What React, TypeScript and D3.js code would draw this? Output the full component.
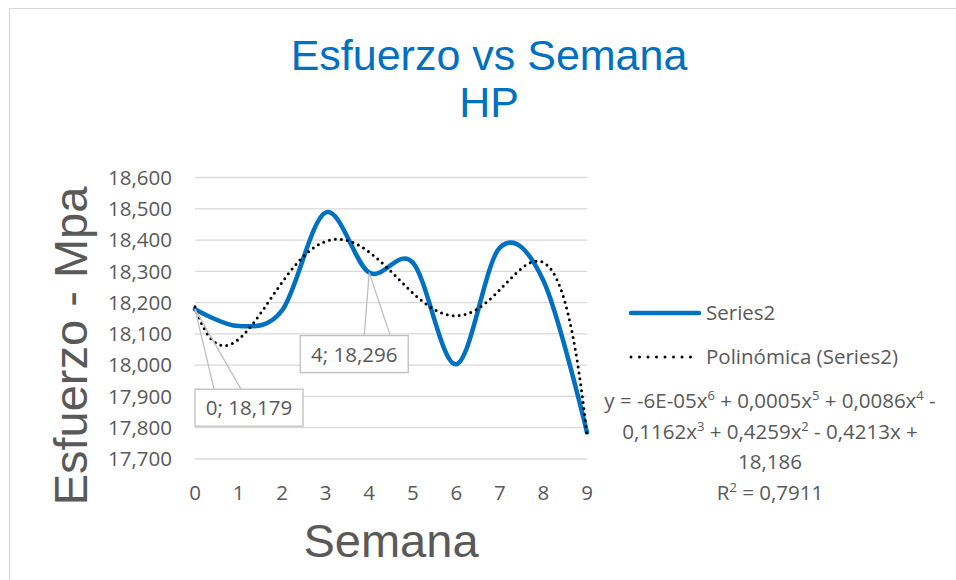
import React from 'react';
import * as d3 from 'd3';

const weeks = [0, 1, 2, 3, 4, 5, 6, 7, 8, 9];
const esfuerzo = [18.179, 18.125, 18.175, 18.488, 18.296, 18.328, 18.003, 18.376, 18.27, 17.785];
const yTicks = [17.7, 17.8, 17.9, 18.0, 18.1, 18.2, 18.3, 18.4, 18.5, 18.6];
const labelled = [0, 4];
// trendline label, "^" marks a superscript part
const equationLines = [
  'y = -6E-05x^6^ + 0,0005x^5^ + 0,0086x^4^ -',
  '0,1162x^3^ + 0,4259x^2^ - 0,4213x +',
  '18,186',
  'R^2^ = 0,7911',
];

const W = 956;
const H = 580;
const margin = { top: 177.5, right: 369, bottom: 121, left: 195 };

const fmt = (v: number) => v.toFixed(3).replace('.', ',');

// least-squares polynomial fit (like Excel's "Polinómica" trendline, order 6)
function polyFit(xs: number[], ys: number[], order: number) {
  const c = 4.5;
  const t = xs.map(x => (x - c) / c);
  const n = order + 1;
  const A: number[][] = [];
  for (let i = 0; i < n; i++) {
    const row: number[] = [];
    for (let j = 0; j < n; j++) row.push(d3.sum(t, v => Math.pow(v, i + j)));
    row.push(d3.sum(t, (v, k) => Math.pow(v, i) * ys[k]));
    A.push(row);
  }
  for (let i = 0; i < n; i++) {
    let p = i;
    for (let r = i + 1; r < n; r++) if (Math.abs(A[r][i]) > Math.abs(A[p][i])) p = r;
    [A[i], A[p]] = [A[p], A[i]];
    for (let r = 0; r < n; r++) {
      if (r === i) continue;
      const f = A[r][i] / A[i][i];
      for (let k = i; k <= n; k++) A[r][k] -= f * A[i][k];
    }
  }
  const coef = A.map((row, i) => row[n] / row[i]);
  return (x: number) => {
    const v = (x - c) / c;
    return coef.reduce((s, a, i) => s + a * Math.pow(v, i), 0);
  };
}

const App: React.FC = () => {
  const x = d3.scaleLinear().domain([0, 9]).range([margin.left, W - margin.right]);
  const y = d3.scaleLinear().domain([17.7, 18.6]).range([H - margin.bottom, margin.top]);

  const data = weeks.map((w, i) => ({ w, v: esfuerzo[i] }));
  const line = d3.line<{ w: number; v: number }>()
    .x(d => x(d.w))
    .y(d => y(d.v))
    .curve(d3.curveCatmullRom.alpha(0));

  const trend = polyFit(weeks, esfuerzo, 6);
  const trendPts = d3.range(0, 9.001, 0.05).map(w => ({ w, v: trend(w) }));
  const trendLine = d3.line<{ w: number; v: number }>().x(d => x(d.w)).y(d => y(d.v));

  const grey = '#595959';
  const font = '"Open Sans", "Noto Sans", sans-serif';

  const richText = (s: string) => {
    let up = false;
    return s.split('^').map((part, i) => {
      const isSup = i % 2 === 1;
      const dy = isSup ? -8 : up ? 8 : 0;
      up = isSup;
      return (
        <tspan key={i} dy={dy} fontSize={isSup ? 13 : undefined}>{part}</tspan>
      );
    });
  };

  return (
    <div style={{ position: 'absolute', left: 0, top: 0 }}>
      <svg width={W} height={H} style={{ display: 'block', background: '#fff' }}>
        <rect x={9.5} y={8.5} width={W + 10} height={H + 10} fill="#fff" stroke="#d9d9d9" />

        <text x={489} textAnchor="middle" fill="#0070C0" fontFamily='"Liberation Sans", Arial, sans-serif' fontSize={43}>
          <tspan x={489} y={70}>Esfuerzo vs Semana</tspan>
          <tspan x={489} y={117}>HP</tspan>
        </text>

        {yTicks.map(t => (
          <g key={t}>
            <line x1={margin.left} x2={W - margin.right} y1={y(t)} y2={y(t)} stroke="#d9d9d9" strokeWidth={1.3} />
            <text x={172} y={y(t)} dy="0.35em" textAnchor="end" fill={grey} fontFamily={font} fontSize={20.5}>
              {fmt(t)}
            </text>
          </g>
        ))}

        {weeks.map(w => (
          <text key={w} x={x(w)} y={500} textAnchor="middle" fill={grey} fontFamily={font} fontSize={20.5}>{w}</text>
        ))}

        <text x={391} y={557} textAnchor="middle" fill={grey} fontFamily='"Liberation Sans", Arial, sans-serif' fontSize={47}>Semana</text>
        <text transform="translate(87,346) rotate(-90)" textAnchor="middle" fill={grey} fontFamily='"Liberation Sans", Arial, sans-serif' fontSize={47}>Esfuerzo - Mpa</text>

        <path d={line(data) ?? ''} fill="none" stroke="#0070C0" strokeWidth={4.5} strokeLinecap="round" />
        <path d={trendLine(trendPts) ?? ''} fill="none" stroke="#000" strokeWidth={3} strokeLinecap="round" strokeDasharray="0 6" />

        {labelled.map((idx, k) => {
          const px = x(weeks[idx]);
          const py = y(esfuerzo[idx]);
          const bx = k === 0 ? px : px - 69;
          const by = k === 0 ? py + 80 : py + 63;
          const lx1 = k === 0 ? px + 19 : px - 5;
          const lx2 = k === 0 ? px + 46 : px + 21;
          return (
            <g key={idx}>
              <polyline points={`${lx1},${by} ${px},${py} ${lx2},${by}`} fill="none" stroke="#bfbfbf" strokeWidth={1.3} />
              <rect x={bx} y={by} width={108} height={37} fill="#fff" stroke="#bfbfbf" strokeWidth={1.3} />
              <text x={bx + 54} y={by + 26} textAnchor="middle" fill={grey} fontFamily={font} fontSize={20.5}>
                {`${weeks[idx]}; ${fmt(esfuerzo[idx])}`}
              </text>
            </g>
          );
        })}

        <line x1={631} x2={699} y1={313} y2={313} stroke="#0070C0" strokeWidth={4.5} strokeLinecap="round" />
        <text x={706} y={320} fill={grey} fontFamily={font} fontSize={20.5}>Series2</text>
        <line x1={631} x2={699} y1={357} y2={357} stroke="#000" strokeWidth={3} strokeLinecap="round" strokeDasharray="0 8.5" />
        <text x={706} y={364} fill={grey} fontFamily={font} fontSize={20.5}>Polinómica (Series2)</text>

        <g fill={grey} fontFamily={font} fontSize={20.5} textAnchor="middle" style={{ whiteSpace: 'pre' }}>
          {equationLines.map((l, i) => (
            <text key={i} x={770} y={408 + i * 30.5}>{richText(l)}</text>
          ))}
        </g>
      </svg>
    </div>
  );
};

export default App;
